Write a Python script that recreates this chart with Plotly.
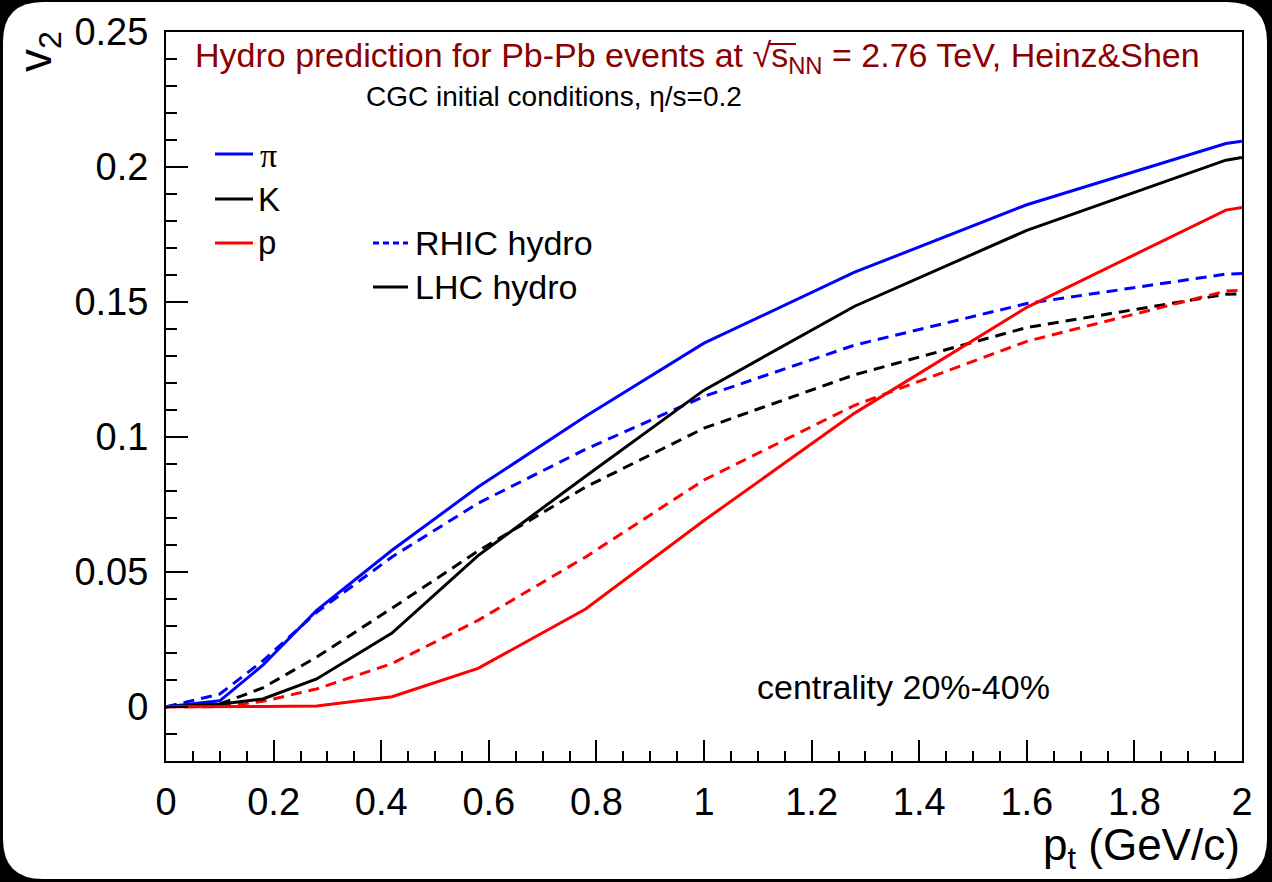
import plotly.graph_objects as go

# transverse momentum grid (GeV/c) on which the hydro v2 curves are tabulated
pt = [0.0, 0.1, 0.18, 0.28, 0.42, 0.58, 0.78, 1.0, 1.28, 1.6, 1.97, 2.0]

# LHC hydro (solid)
v2_pi_lhc = [0.0, 0.0022, 0.0154, 0.0357, 0.058, 0.0814, 0.1076, 0.1347, 0.161, 0.186, 0.2087, 0.2095]
v2_k_lhc = [0.0, 0.0009, 0.0029, 0.0103, 0.0273, 0.056, 0.0854, 0.1173, 0.1484, 0.1765, 0.2025, 0.2035]
v2_p_lhc = [0.0, 0.0, 0.0001, 0.0003, 0.0037, 0.0142, 0.0362, 0.069, 0.1088, 0.148, 0.184, 0.185]

# RHIC hydro (dashed)
v2_pi_rhic = [0.0, 0.0047, 0.017, 0.035, 0.0555, 0.0754, 0.0954, 0.115, 0.134, 0.1494, 0.1603, 0.1605]
v2_k_rhic = [0.0, 0.001, 0.007, 0.0184, 0.0365, 0.0577, 0.0814, 0.1032, 0.123, 0.1405, 0.1528, 0.153]
v2_p_rhic = [0.0, 0.0, 0.002, 0.0066, 0.016, 0.032, 0.0555, 0.084, 0.1117, 0.1354, 0.154, 0.1543]

x_ticks = [0, 0.2, 0.4, 0.6, 0.8, 1.0, 1.2, 1.4, 1.6, 1.8, 2.0]
y_ticks = [0, 0.05, 0.1, 0.15, 0.2, 0.25]

BLUE = "#0000ff"
BLACK = "#000000"
RED = "#ff0000"
DARKRED = "#8b0000"
FONT = "Liberation Sans, Arial, Helvetica, sans-serif"
NARROW = "Liberation Sans Narrow, Liberation Sans, Arial, sans-serif"

W, H = 1272, 882
ML, MR, MT, MB = 166, 30, 32, 121
PW, PH = W - ML - MR, H - MT - MB


def px(xp):
    return (xp - ML) / PW


def py(yp):
    return (H - MB - yp) / PH


fig = go.Figure()

series = [
    (v2_pi_rhic, BLUE, "dash"),
    (v2_k_rhic, BLACK, "dash"),
    (v2_p_rhic, RED, "dash"),
    (v2_pi_lhc, BLUE, "solid"),
    (v2_k_lhc, BLACK, "solid"),
    (v2_p_lhc, RED, "solid"),
]
for vals, col, dash in series:
    fig.add_trace(go.Scatter(
        x=pt, y=vals, mode="lines",
        line=dict(color=col, width=3, dash="11px,7px" if dash == "dash" else "solid"),
        showlegend=False, hoverinfo="skip",
    ))

# rounded white page on black background
x0, x1, y0, y1, r = px(3), px(1267), py(2), py(879), 40
rx, ry = r / PW, r / PH
page = (
    f"M {x0+rx},{y0} L {x1-rx},{y0} Q {x1},{y0} {x1},{y0-ry} "
    f"L {x1},{y1+ry} Q {x1},{y1} {x1-rx},{y1} "
    f"L {x0+rx},{y1} Q {x0},{y1} {x0},{y1+ry} "
    f"L {x0},{y0-ry} Q {x0},{y0} {x0+rx},{y0} Z"
)
shapes = [dict(type="path", path=page, xref="paper", yref="paper",
               fillcolor="white", line=dict(width=0), layer="below")]


def legend_line(xa, xb, yc, col, dash, width=3):
    shapes.append(dict(type="line", xref="paper", yref="paper",
                       x0=px(xa), x1=px(xb), y0=py(yc), y1=py(yc),
                       line=dict(color=col, width=width, dash=dash)))


# legend samples
legend_line(215, 253, 154, BLUE, "solid")
legend_line(215, 253, 199, BLACK, "solid")
legend_line(215, 253, 243, RED, "solid")
legend_line(373, 408, 243, BLUE, "6px,4px")
legend_line(373, 408, 287, BLACK, "solid")

# bar of the square-root sign in the title
legend_line(768, 796, 44, DARKRED, "solid", width=2)

annotations = []


def label(text, xp, yp, size, color=BLACK, xanchor="left", yanchor="middle", family=FONT, angle=0):
    annotations.append(dict(text=text, x=px(xp), y=py(yp), xref="paper", yref="paper",
                            xanchor=xanchor, yanchor=yanchor, showarrow=False,
                            textangle=angle,
                            font=dict(family=family, size=size, color=color)))


label("π", 258, 156, 34, family="Liberation Serif, serif")
label("K", 256, 200, 33)
label("p", 256, 243, 33)
label("RHIC hydro", 413, 243, 34)
label("LHC hydro", 413, 287, 34)
label("centrality 20%-40%", 755, 687, 34)
label("Hydro prediction for Pb-Pb events at "
      "√s<sub>NN</sub> = 2.76 TeV, Heinz&amp;Shen",
      193, 57, 34, color=DARKRED, family=NARROW)
label("CGC initial conditions, η/s=0.2", 364, 97, 28, family=NARROW)
label("v<sub>2</sub>", 38, 52, 46, xanchor="center", angle=-90)
label("p<sub>t</sub> (GeV/c)", 1242, 848, 44, xanchor="right")

axis_common = dict(
    showline=True, linecolor="black", linewidth=2, mirror=True,
    ticks="inside", tickcolor="black", tickwidth=2,
    showgrid=False, zeroline=False,
    tickfont=dict(family=FONT, size=38, color="black"),
)

fig.update_layout(
    width=W, height=H,
    margin=dict(l=ML, r=MR, t=MT, b=MB),
    paper_bgcolor="black", plot_bgcolor="white",
    shapes=shapes, annotations=annotations,
    xaxis=dict(range=[0, 2], tickvals=x_ticks, ticklen=21,
               ticklabelstandoff=6,
               minor=dict(dtick=0.05, ticklen=10, ticks="inside", tickcolor="black", tickwidth=2),
               **axis_common),
    yaxis=dict(range=[-0.0201, 0.25], tickvals=y_ticks, ticklen=22,
               ticklabelstandoff=8,
               minor=dict(dtick=0.01, ticklen=11, ticks="inside", tickcolor="black", tickwidth=2),
               **axis_common),
)

fig.write_html("out.html")
